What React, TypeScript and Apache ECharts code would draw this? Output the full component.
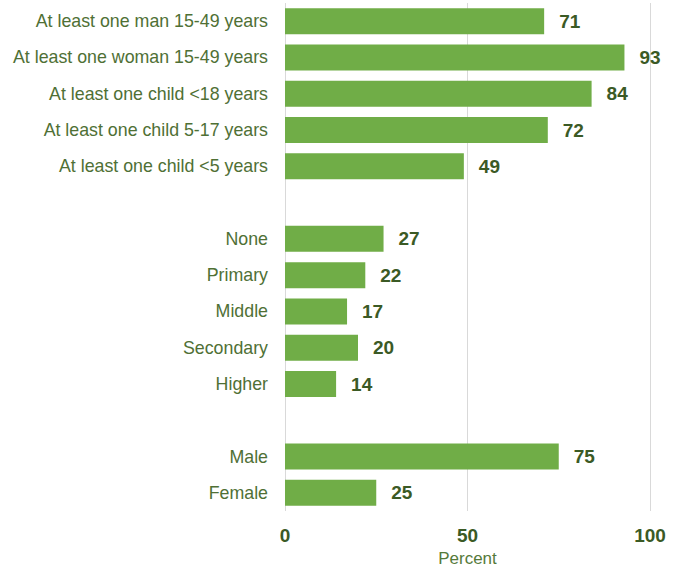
import React, { useEffect, useRef } from "react";
import * as echarts from "echarts";

const categories = [
  "At least one man 15-49 years",
  "At least one woman 15-49 years",
  "At least one child <18 years",
  "At least one child 5-17 years",
  "At least one child <5 years",
  "",
  "None",
  "Primary",
  "Middle",
  "Secondary",
  "Higher",
  " ",
  "Male",
  "Female",
];
const values: (number | null)[] = [71, 93, 84, 72, 49, null, 27, 22, 17, 20, 14, null, 75, 25];
const xTicks = [0, 50, 100];

const FONT = "'Liberation Sans', Arial, sans-serif";

export default function App() {
  const ref = useRef<HTMLDivElement>(null);
  useEffect(() => {
    if (!ref.current) return;
    const chart = echarts.init(ref.current, null, { renderer: "svg" });
    chart.setOption({
      animation: false,
      grid: {
        left: 285,
        width: 365,
        top: 3,
        height: 508,
        containLabel: false,
        outerBoundsMode: "none",
      },
      xAxis: {
        type: "value",
        min: xTicks[0],
        max: xTicks[xTicks.length - 1],
        interval: 50,
        name: "Percent",
        nameLocation: "middle",
        nameGap: 37,
        nameTextStyle: { color: "#557a3a", fontSize: 17, fontFamily: FONT },
        axisLine: { show: false },
        axisTick: { show: false },
        axisLabel: { color: "#3b5a25", fontSize: 19, fontWeight: "bold", fontFamily: FONT, margin: 15 },
        splitLine: { show: true, lineStyle: { color: "#d9d9d9", width: 1 } },
      },
      yAxis: {
        type: "category",
        inverse: true,
        data: categories,
        axisLine: { show: false },
        axisTick: { show: false },
        axisLabel: { color: "#4f7035", fontSize: 17.8, fontFamily: FONT, margin: 17 },
      },
      series: [
        {
          type: "bar",
          data: values,
          barWidth: 26,
          itemStyle: { color: "#70ad47" },
          label: {
            show: true,
            position: "right",
            distance: 15,
            color: "#3b5a25",
            fontSize: 19,
            fontWeight: "bold",
            fontFamily: FONT,
          },
        },
      ],
    });
    return () => chart.dispose();
  }, []);
  return (
    <div
      ref={ref}
      style={{ position: "absolute", left: 0, top: 0, width: 684, height: 569 }}
    />
  );
}
